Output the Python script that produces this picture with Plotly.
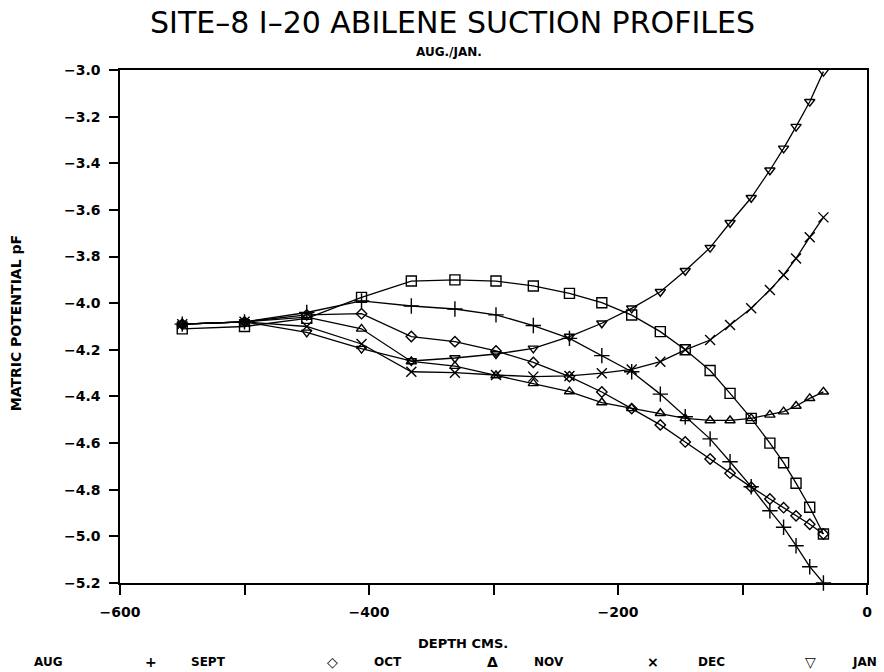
import plotly.graph_objects as go

# ---- data ----
depth = [-550, -500, -450, -406, -366, -331, -298, -268, -239, -213, -189,
         -166, -146, -126, -110, -93, -78, -67, -57, -46, -35]

aug = [-4.11, -4.10, -4.065, -3.975, -3.905, -3.90, -3.905, -3.926, -3.958, -3.998, -4.051,
       -4.122, -4.20, -4.289, -4.387, -4.494, -4.60, -4.684, -4.772, -4.875, -4.99]
sept = [-4.09, -4.08, -4.04, -3.99, -4.012, -4.025, -4.05, -4.096, -4.151, -4.225, -4.294,
        -4.39, -4.487, -4.582, -4.68, -4.787, -4.89, -4.961, -5.04, -5.13, -5.20]
oct_ = [-4.09, -4.08, -4.05, -4.045, -4.143, -4.165, -4.205, -4.254, -4.315, -4.381, -4.452,
        -4.522, -4.595, -4.668, -4.729, -4.789, -4.84, -4.877, -4.912, -4.948, -4.99]
nov = [-4.09, -4.08, -4.06, -4.11, -4.25, -4.27, -4.31, -4.344, -4.379, -4.426, -4.451,
       -4.472, -4.494, -4.503, -4.503, -4.494, -4.479, -4.465, -4.441, -4.408, -4.38]
dec = [-4.09, -4.08, -4.10, -4.175, -4.294, -4.298, -4.308, -4.315, -4.312, -4.30, -4.284,
       -4.251, -4.20, -4.158, -4.094, -4.022, -3.943, -3.879, -3.808, -3.717, -3.632]
jan = [-4.09, -4.08, -4.125, -4.195, -4.248, -4.235, -4.218, -4.194, -4.143, -4.086, -4.022,
       -3.951, -3.861, -3.762, -3.655, -3.548, -3.43, -3.336, -3.243, -3.136, -3.007]

series_names = ["AUG", "SEPT", "OCT", "NOV", "DEC", "JAN"]
series_values = [aug, sept, oct_, nov, dec, jan]
series_symbols = ["square-open", "cross-thin", "diamond-open", "triangle-up-open",
                  "x-thin", "triangle-down-open"]
legend_glyphs = ["", "+", "\u25C7", "\u0394", "\u00D7", "\u25BD"]

x_tickvals = [-600, -500, -400, -300, -200, -100, 0]
x_ticktext = ["\u2212600", "", "\u2212400", "", "\u2212200", "", "0"]

# ---- styling / layout ----
W, H = 884, 672
L, R, T, B = 120, 15, 70, 89
pw, ph = W - L - R, H - T - B

def px_to_paper_x(px):
    return (px - L) / pw

def py_to_paper_y(py):
    return (H - B - py) / ph

marker_sizes = [10, 11, 8, 9, 10, 9]

fig = go.Figure()
for name, vals, sym, ms in zip(series_names, series_values, series_symbols, marker_sizes):
    fig.add_trace(go.Scatter(
        x=depth, y=vals, name=name, mode="lines+markers",
        line=dict(color="black", width=1.3),
        marker=dict(symbol=sym, size=ms, color="black",
                    line=dict(color="black", width=1.4)),
        cliponaxis=False, showlegend=False))

FAM = "DejaVu Sans"
tick_font = dict(family=FAM, size=14, color="black", weight="bold")
small_font = dict(family=FAM, size=12, color="black", weight="bold")
glyph_font = dict(family=FAM, size=14, color="black", weight="bold")

fig.update_xaxes(range=[-600, 0], tickvals=x_tickvals, ticktext=x_ticktext,
                 showline=True, linecolor="black", linewidth=1.5, mirror=True,
                 ticks="outside", ticklen=10, tickwidth=1.5, tickcolor="black",
                 showgrid=False, zeroline=False, tickfont=tick_font,
                 ticklabelstandoff=5)
fig.update_yaxes(range=[-5.2, -3.0], dtick=0.2, tick0=-3.0, tickformat=".1f",
                 showline=True, linecolor="black", linewidth=1.5, mirror=True,
                 ticks="outside", ticklen=9, tickwidth=1.5, tickcolor="black",
                 showgrid=False, zeroline=False, tickfont=tick_font,
                 ticklabelstandoff=6)

annotations = [
    dict(text="SITE\u20138 I\u201320 ABILENE SUCTION PROFILES", x=px_to_paper_x(453),
         y=py_to_paper_y(22), xref="paper", yref="paper", showarrow=False,
         xanchor="center", yanchor="middle",
         font=dict(family=FAM, size=30, color="black")),
    dict(text="AUG./JAN.", x=px_to_paper_x(450), y=py_to_paper_y(52),
         xref="paper", yref="paper", showarrow=False, xanchor="center", yanchor="middle",
         font=dict(family=FAM, size=12, color="black", weight="bold")),
    dict(text="DEPTH CMS.", x=px_to_paper_x(464), y=py_to_paper_y(643),
         xref="paper", yref="paper", showarrow=False, xanchor="center", yanchor="middle",
         font=dict(family=FAM, size=13, color="black", weight="bold")),
    dict(text="MATRIC POTENTIAL pF", x=px_to_paper_x(16), y=py_to_paper_y(323),
         xref="paper", yref="paper", showarrow=False, xanchor="center", yanchor="middle",
         textangle=-90, font=dict(family=FAM, size=14, color="black", weight="bold")),
]

legend_label_px = [48, 209, 389, 550, 713, 866]
legend_glyph_px = [None, 151, 333, 493, 654, 812]
legend_py = 662
for name, glyph, lx, gx in zip(series_names, legend_glyphs, legend_label_px, legend_glyph_px):
    annotations.append(dict(text=name, x=px_to_paper_x(lx), y=py_to_paper_y(legend_py),
                            xref="paper", yref="paper", showarrow=False,
                            xanchor="center", yanchor="middle", font=small_font))
    if glyph:
        annotations.append(dict(text=glyph, x=px_to_paper_x(gx), y=py_to_paper_y(legend_py),
                                xref="paper", yref="paper", showarrow=False,
                                xanchor="center", yanchor="middle", font=glyph_font))

fig.update_layout(width=W, height=H, margin=dict(l=L, r=R, t=T, b=B),
                  paper_bgcolor="white", plot_bgcolor="white",
                  annotations=annotations, showlegend=False)

fig.write_html("out.html")
